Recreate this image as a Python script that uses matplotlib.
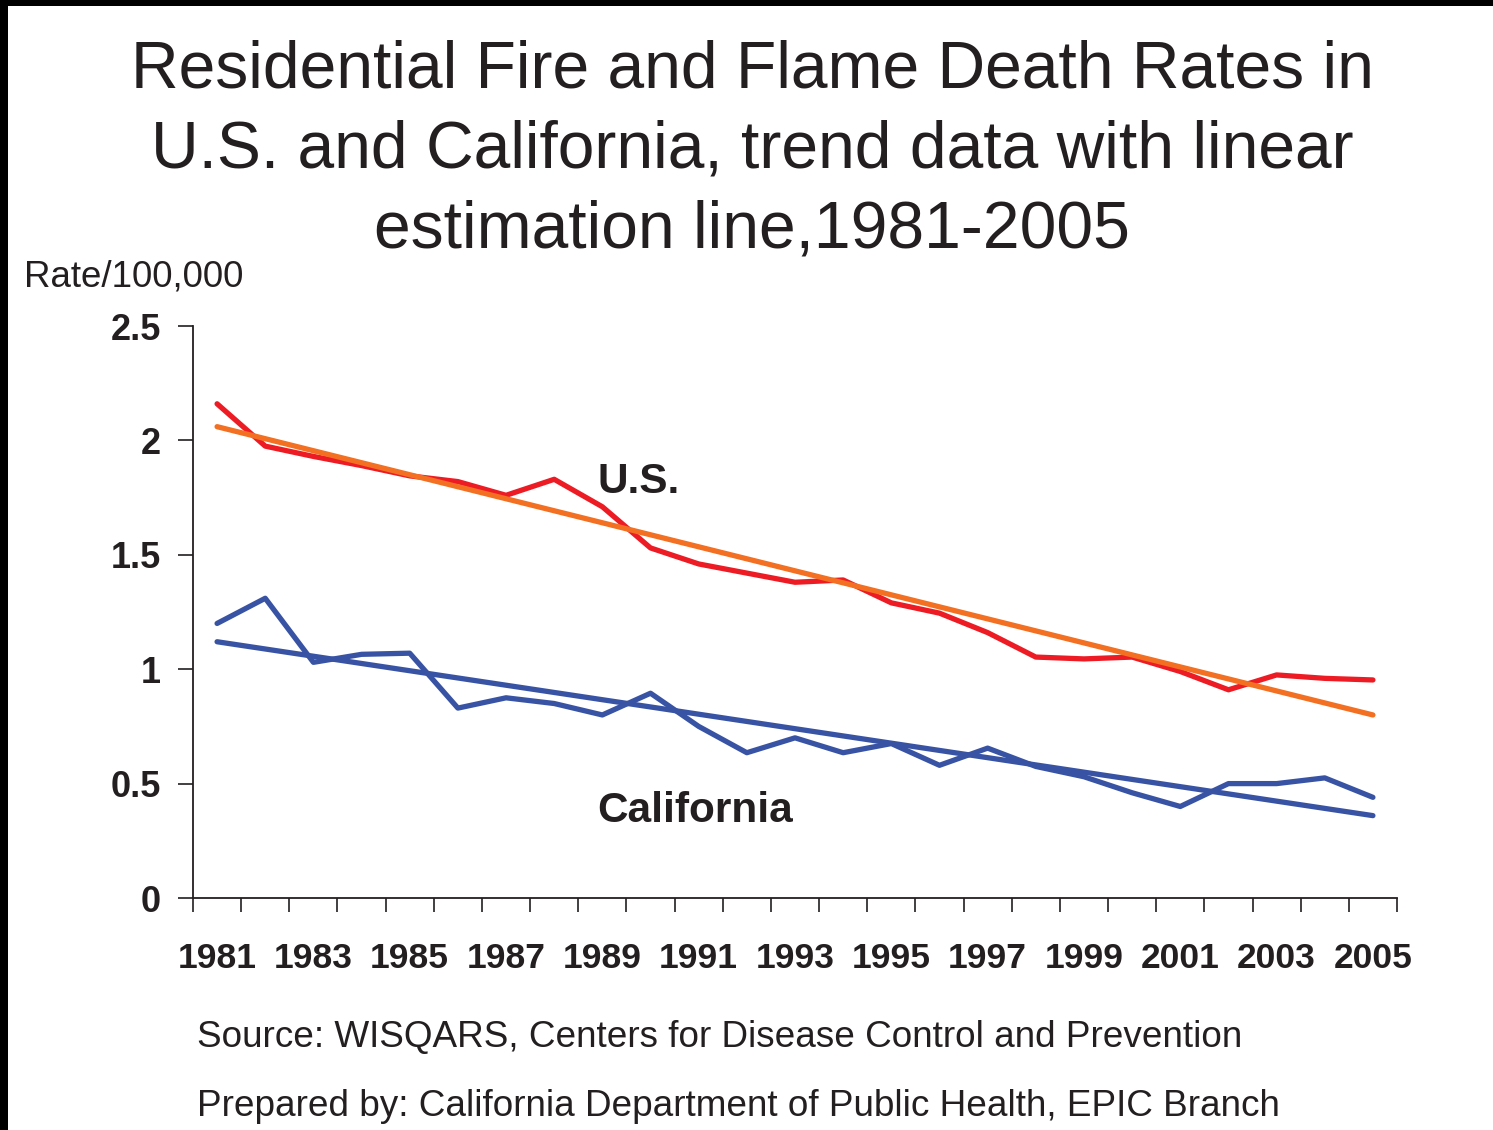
import matplotlib.pyplot as plt
from matplotlib.patches import Rectangle

plt.rcParams['font.family'] = ['Liberation Sans', 'DejaVu Sans']

# Data (rate per 100,000)
years = list(range(1981, 2006))
us_rates = [2.16, 1.975, 1.93, 1.89, 1.845, 1.82, 1.76, 1.83, 1.71, 1.53,
            1.46, 1.42, 1.38, 1.39, 1.29, 1.245, 1.16, 1.053, 1.045, 1.053,
            0.99, 0.91, 0.975, 0.96, 0.953]
ca_rates = [1.20, 1.31, 1.03, 1.065, 1.07, 0.83, 0.875, 0.85, 0.80, 0.895,
            0.75, 0.635, 0.70, 0.635, 0.675, 0.58, 0.655, 0.575, 0.53, 0.46,
            0.40, 0.50, 0.50, 0.525, 0.44]
# linear estimation lines, endpoints at 1981 and 2005
us_trend = [2.06, 0.80]
ca_trend = [1.12, 0.36]
y_ticks = [0, 0.5, 1, 1.5, 2, 2.5]
y_tick_labels = ['0', '0.5', '1', '1.5', '2', '2.5']

RED = '#ED1C24'
ORANGE = '#F36F21'
BLUE = '#3853A4'
TEXT = '#231F20'

fig = plt.figure(figsize=(14.93, 11.3), dpi=100)
ax = fig.add_axes([193 / 1493, 1 - 898 / 1130, (1397 - 193) / 1493, (898 - 326) / 1130])

x = list(range(len(years)))
ax.plot(x, us_rates, color=RED, lw=3.8, solid_capstyle='round', zorder=3)
ax.plot([x[0], x[-1]], us_trend, color=ORANGE, lw=3.8, solid_capstyle='round', zorder=4)
ax.plot(x, ca_rates, color=BLUE, lw=3.8, solid_capstyle='round', zorder=3)
ax.plot([x[0], x[-1]], ca_trend, color=BLUE, lw=3.8, solid_capstyle='round', zorder=3)

ax.set_xlim(-0.5, len(years) - 0.5)
ax.set_ylim(0, 2.5)

for side in ['top', 'right']:
    ax.spines[side].set_visible(False)
for side in ['left', 'bottom']:
    ax.spines[side].set_color(TEXT)
    ax.spines[side].set_linewidth(1.3)

# category boundaries as major ticks, labels for odd years on minor ticks
ax.set_xticks([i - 0.5 for i in range(len(years) + 1)])
ax.set_xticklabels([])
ax.set_xticks(x[::2], minor=True)
ax.set_xticklabels([str(y) for y in years[::2]], minor=True)
ax.tick_params(axis='x', which='major', length=10, width=1.2, color=TEXT, direction='out')
ax.tick_params(axis='x', which='minor', length=0, pad=32, labelsize=25.5, labelcolor=TEXT)
for lbl in ax.get_xticklabels(minor=True):
    lbl.set_fontweight('bold')

ax.set_yticks(y_ticks)
ax.set_yticklabels(y_tick_labels, fontsize=26, fontweight='bold', color=TEXT)
ax.tick_params(axis='y', length=11, width=1.2, color=TEXT, direction='out', pad=12)

ax.text(7.9, 1.82, 'U.S.', fontsize=30.5, fontweight='bold', color=TEXT,
        ha='left', va='center')
ax.text(7.9, 0.38, 'California', fontsize=30.5, fontweight='bold', color=TEXT,
        ha='left', va='center')

title_lines = ['Residential Fire and Flame Death Rates in',
               'U.S. and California, trend data with linear',
               'estimation line,1981-2005']
for i, line in enumerate(title_lines):
    fig.text(752 / 1493, 1 - (71 + 80 * i) / 1130, line, fontsize=47.5, color=TEXT,
             ha='center', va='center')

fig.text(24 / 1493, 1 - 277 / 1130, 'Rate/100,000', fontsize=26.5, color=TEXT,
         ha='left', va='center')
fig.text(197 / 1493, 1 - 1038 / 1130,
         'Source: WISQARS, Centers for Disease Control and Prevention',
         fontsize=26.6, color=TEXT, ha='left', va='center')
fig.text(197 / 1493, 1 - 1106 / 1130,
         'Prepared by: California Department of Public Health, EPIC Branch',
         fontsize=26.6, color=TEXT, ha='left', va='center')

# black frame edges seen in the slide capture
fig.patches.append(Rectangle((0, 1 - 6 / 1130), 1, 6 / 1130, transform=fig.transFigure,
                             facecolor='black', edgecolor='none'))
fig.patches.append(Rectangle((0, 0), 8 / 1493, 1, transform=fig.transFigure,
                             facecolor='black', edgecolor='none'))

fig.savefig('out.png', dpi=100)
